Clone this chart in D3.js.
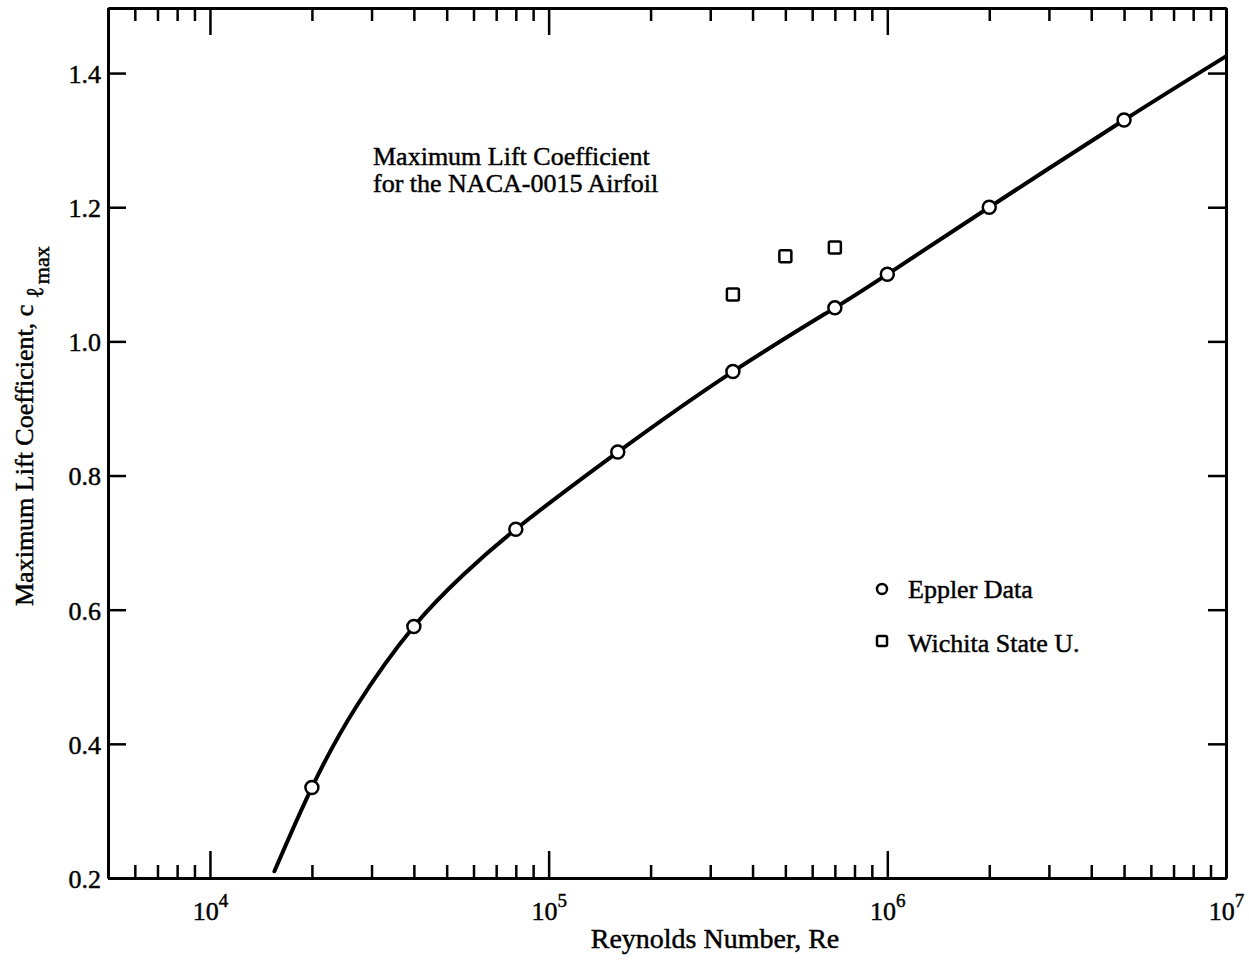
<!DOCTYPE html>
<html>
<head>
<meta charset="utf-8">
<script src="https://d3js.org/d3.v7.min.js"></script>
<style>
  body {margin:0; background:#fff;}
  svg text {font-family: "Liberation Serif", "Times New Roman", serif; fill:#000; stroke:#000; stroke-width:0.45px;}
</style>
</head>
<body>
<svg id="chart" width="1249" height="962"></svg>
<script>
// values
var epplerRe = [2e4, 4e4, 8e4, 1.6e5, 3.5e5, 7e5, 1e6, 2e6, 5e6];
var epplerCl = [0.335, 0.575, 0.72, 0.835, 0.955, 1.05, 1.10, 1.20, 1.33];
var wichitaRe = [3.5e5, 5e5, 7e5];
var wichitaCl = [1.07, 1.127, 1.14];
// faired curve through the data
var curveRe = [1.55e4, 2e4, 2.7e4, 4e4, 5.6e4, 8e4, 1.6e5, 3.5e5, 7e5, 1e6, 2e6, 5e6, 1e7];
var curveCl = [0.21, 0.335, 0.455, 0.575, 0.652, 0.72, 0.835, 0.955, 1.05, 1.10, 1.20, 1.33, 1.425];
var yTicks = [0.2, 0.4, 0.6, 0.8, 1.0, 1.2, 1.4];
var xMajor = [1e4, 1e5, 1e6, 1e7];

var svg = d3.select("#chart");
var x = d3.scaleLog().domain([5000, 1e7]).range([108, 1226]);
var y = d3.scaleLinear().domain([0.2, 1.497]).range([878, 8]);
var xMinor = x.ticks().filter(function(d) { return xMajor.indexOf(d) < 0; });

function styleAxis(g) {
  g.attr("font-family", null).attr("font-size", null);
  g.select(".domain").attr("stroke-width", 3);
  g.selectAll(".tick line").attr("stroke-width", 2.5);
}

// bottom
svg.append("g").attr("transform", "translate(0,878)")
  .call(d3.axisBottom(x).tickValues(xMinor).tickSize(-13).tickSizeOuter(0).tickFormat(""))
  .call(styleAxis);
var gxb = svg.append("g").attr("transform", "translate(0,878)")
  .call(d3.axisBottom(x).tickValues(xMajor).tickSize(-27).tickSizeOuter(0))
  .call(styleAxis);
gxb.selectAll(".tick text").each(function(d) {
  var t = d3.select(this).text(null).attr("dy", null).attr("y", 42).attr("font-size", 26);
  t.append("tspan").text("10");
  t.append("tspan").attr("dy", -13).attr("font-size", 19).text(Math.round(Math.log10(d)));
});

// top
svg.append("g").attr("transform", "translate(0,8)")
  .call(d3.axisTop(x).tickValues(xMinor).tickSize(-13).tickSizeOuter(0).tickFormat(""))
  .call(styleAxis);
svg.append("g").attr("transform", "translate(0,8)")
  .call(d3.axisTop(x).tickValues(xMajor).tickSize(-27).tickSizeOuter(0).tickFormat(""))
  .call(styleAxis);

// left / right
var gyl = svg.append("g").attr("transform", "translate(108,0)")
  .call(d3.axisLeft(y).tickValues(yTicks).tickSize(-18).tickSizeOuter(0).tickPadding(7).tickFormat(d3.format(".1f")))
  .call(styleAxis);
gyl.selectAll(".tick text").attr("font-size", 26).attr("dy", "0.36em");
svg.append("g").attr("transform", "translate(1226,0)")
  .call(d3.axisRight(y).tickValues(yTicks).tickSize(-18).tickSizeOuter(0).tickFormat(""))
  .call(styleAxis);

// curve
var line = d3.line()
  .x(function(d, i) { return x(curveRe[i]); })
  .y(function(d, i) { return y(curveCl[i]); })
  .curve(d3.curveNatural);
svg.append("path").attr("d", line(curveRe))
  .attr("fill", "none").attr("stroke", "#000").attr("stroke-width", 4).attr("stroke-linecap", "round");

svg.selectAll("circle.eppler").data(epplerRe).enter().append("circle")
  .attr("class", "eppler")
  .attr("cx", function(d) { return x(d); })
  .attr("cy", function(d, i) { return y(epplerCl[i]); })
  .attr("r", 6.5).attr("fill", "#fff").attr("stroke", "#000").attr("stroke-width", 2.5);

svg.selectAll("rect.wsu").data(wichitaRe).enter().append("rect")
  .attr("class", "wsu")
  .attr("x", function(d) { return x(d) - 6; })
  .attr("y", function(d, i) { return y(wichitaCl[i]) - 6; })
  .attr("width", 12).attr("height", 12).attr("rx", 1.5)
  .attr("fill", "#fff").attr("stroke", "#000").attr("stroke-width", 2.5);

// annotation
var title = svg.append("text").attr("font-size", 26);
title.append("tspan").attr("x", 373).attr("y", 165).text("Maximum Lift Coefficient");
title.append("tspan").attr("x", 373).attr("y", 192).text("for the NACA-0015 Airfoil");

// legend
svg.append("circle").attr("cx", 882).attr("cy", 589).attr("r", 5)
  .attr("fill", "#fff").attr("stroke", "#000").attr("stroke-width", 2.5);
svg.append("text").attr("x", 908).attr("y", 598).attr("font-size", 26).text("Eppler Data");
svg.append("rect").attr("x", 877).attr("y", 636).attr("width", 10).attr("height", 10).attr("rx", 1.5)
  .attr("fill", "#fff").attr("stroke", "#000").attr("stroke-width", 2.5);
svg.append("text").attr("x", 908).attr("y", 652).attr("font-size", 26).text("Wichita State U.");

// axis titles
svg.append("text").attr("x", 715).attr("y", 948).attr("text-anchor", "middle")
  .attr("font-size", 28).text("Reynolds Number, Re");
var yt = svg.append("text").attr("transform", "translate(33,606) rotate(-90)").attr("font-size", 26);
yt.append("tspan").text("Maximum Lift Coefficient, c");
yt.append("tspan").attr("dx", 6).attr("dy", 10).attr("font-size", 24).text("\u2113");
yt.append("tspan").attr("dx", 3).attr("dy", 6).attr("font-size", 22).text("max");
</script>
</body>
</html>
